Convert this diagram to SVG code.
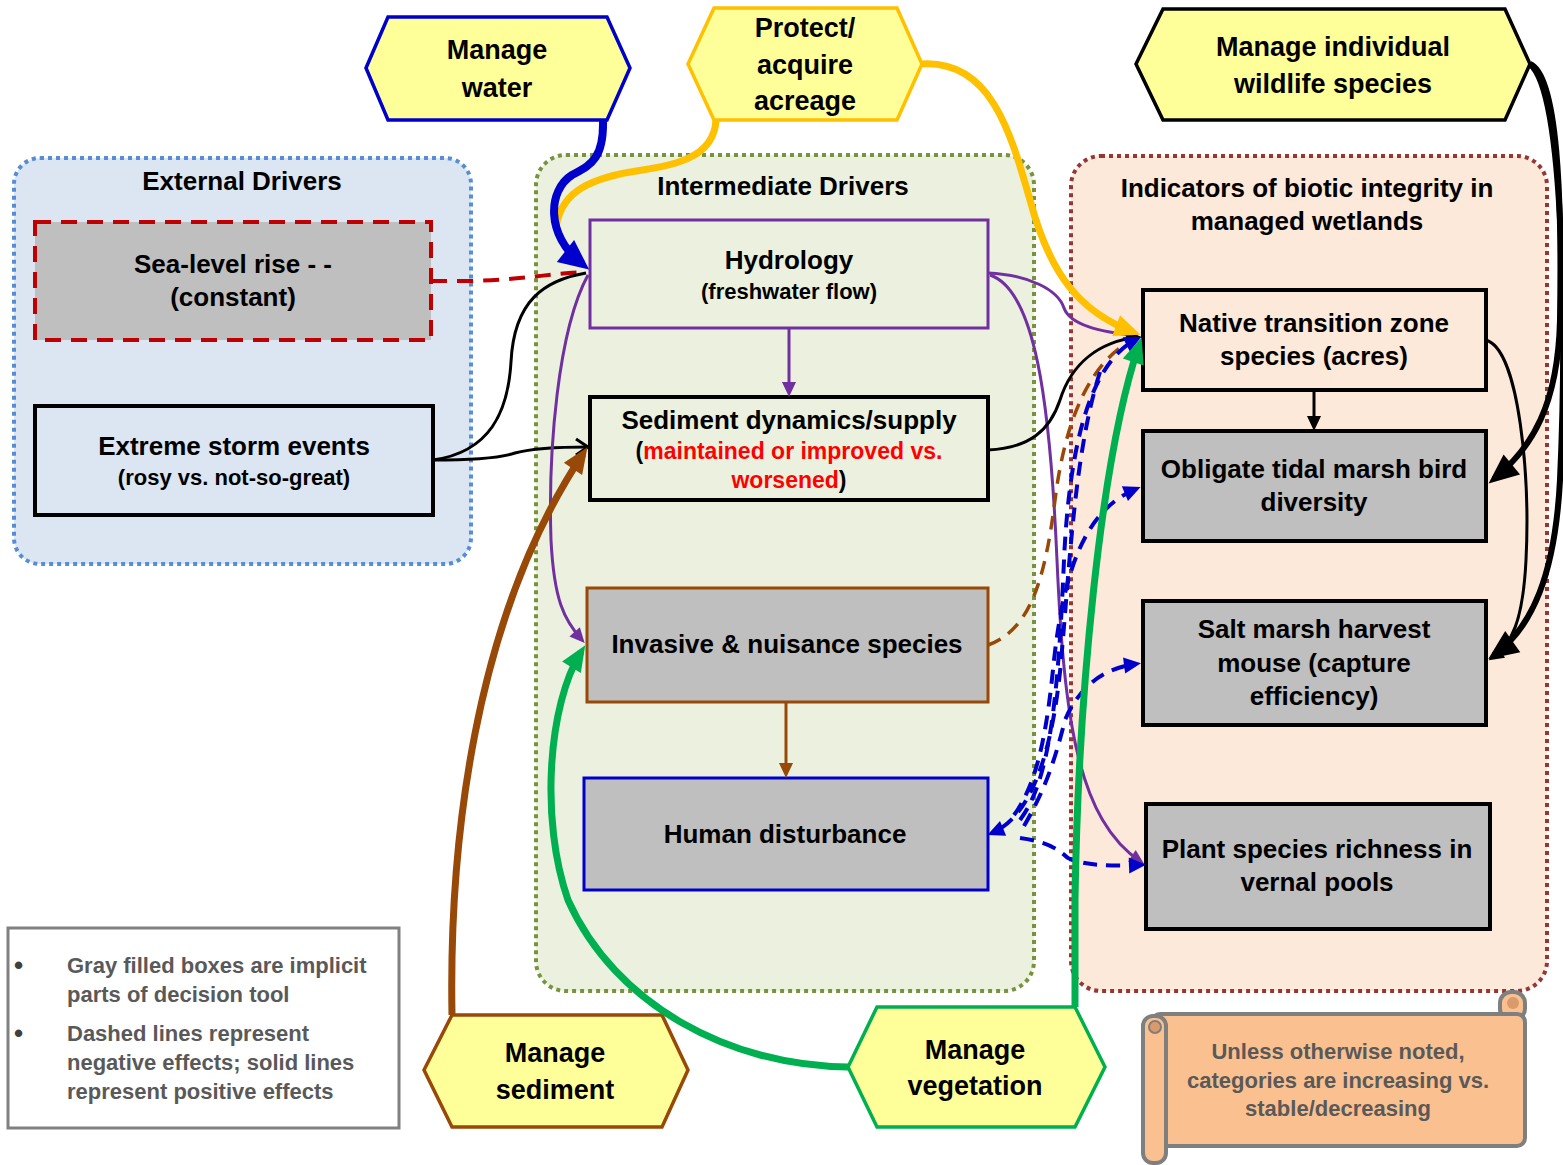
<svg xmlns="http://www.w3.org/2000/svg" width="1563" height="1165" viewBox="0 0 1563 1165">
  <style>
    text { font-family: "Liberation Sans", Arial, sans-serif; font-weight: bold; fill: #000; text-anchor: middle; }
    .t26 { font-size: 26px; }
    .t27 { font-size: 27px; }
    .t22 { font-size: 22px; }
    .t23 { font-size: 23px; }
    .note { font-size: 22px; fill: #595959; }
    .legend { text-anchor: start; }
    .bullet { font-size: 26px; fill: #404040; text-anchor: start; }
    .red { fill: #ff0000; }
    .hex { fill: #ffff99; stroke-width: 3.5; stroke-linejoin: miter; }
    .box { stroke-width: 4; }
    .gray { fill: #bfbfbf; }
    .c { fill: none; stroke-linecap: butt; }
    .dash { stroke-dasharray: 16 10; }
  </style>
  <defs>
    <marker id="aBlue" markerUnits="userSpaceOnUse" refX="21" refY="0" orient="auto" overflow="visible">
      <path d="M0,-14 L30,0 L0,14 z" fill="#0000cc"/>
    </marker>
    <marker id="aYellow" markerUnits="userSpaceOnUse" refX="18" refY="0" orient="auto" overflow="visible">
      <path d="M0,-11 L26,0 L0,11 z" fill="#ffc000"/>
    </marker>
    <marker id="aBrownBig" markerUnits="userSpaceOnUse" refX="18" refY="0" orient="auto" overflow="visible">
      <path d="M0,-11 L26,0 L0,11 z" fill="#984807"/>
    </marker>
    <marker id="aGreen" markerUnits="userSpaceOnUse" refX="18" refY="0" orient="auto" overflow="visible">
      <path d="M0,-11 L26,0 L0,11 z" fill="#00b050"/>
    </marker>
    <marker id="aBlackBig" markerUnits="userSpaceOnUse" refX="23" refY="0" orient="auto" overflow="visible">
      <path d="M0,-13 L30,0 L0,13 z" fill="#000"/>
    </marker>
    <marker id="aPurple" markerUnits="userSpaceOnUse" refX="11" refY="0" orient="auto" overflow="visible">
      <path d="M0,-7 L15,0 L0,7 z" fill="#7030a0"/>
    </marker>
    <marker id="aBrown" markerUnits="userSpaceOnUse" refX="11" refY="0" orient="auto" overflow="visible">
      <path d="M0,-7 L15,0 L0,7 z" fill="#984807"/>
    </marker>
    <marker id="aBlack" markerUnits="userSpaceOnUse" refX="11" refY="0" orient="auto" overflow="visible">
      <path d="M0,-7 L15,0 L0,7 z" fill="#000"/>
    </marker>
    <marker id="aBlackOpen" markerUnits="userSpaceOnUse" refX="12" refY="0" orient="auto" overflow="visible">
      <path d="M0,-8 L12,0 L0,8" fill="none" stroke="#000" stroke-width="3"/>
    </marker>
    <marker id="aBlueDash" markerUnits="userSpaceOnUse" refX="12" refY="0" orient="auto" overflow="visible">
      <path d="M0,-8 L17,0 L0,8 z" fill="#0000cc"/>
    </marker>
  </defs>

  <!-- grouping panels -->
  <g id="external-drivers">
    <rect x="14" y="158" width="457" height="406" rx="26" fill="#dce6f2" stroke="#558ed5" stroke-width="4" stroke-dasharray="4 4"/>
    <text class="t26" x="242" y="190">External Drivers</text>
  </g>
  <g id="intermediate-drivers">
    <rect x="536" y="155" width="498" height="836" rx="30" fill="#ebf1de" stroke="#77933c" stroke-width="4" stroke-dasharray="4 4"/>
    <text class="t26" x="783" y="195">Intermediate Drivers</text>
  </g>
  <g id="indicators">
    <rect x="1071" y="156" width="476" height="835" rx="30" fill="#fde9d9" stroke="#953735" stroke-width="4" stroke-dasharray="4 4"/>
    <text class="t26" x="1307" y="197">Indicators of biotic integrity in</text>
    <text class="t26" x="1307" y="230">managed wetlands</text>
  </g>

  <!-- nodes -->
  <g id="sea-level-rise">
    <rect x="35" y="222" width="396" height="118" class="box gray" stroke="#c00000" stroke-dasharray="16 10"/>
    <text class="t26" x="233" y="273">Sea-level rise - -</text>
    <text class="t26" x="233" y="306">(constant)</text>
  </g>
  <g id="extreme-storm-events">
    <rect x="35" y="406" width="398" height="109" class="box" fill="#dce6f2" stroke="#000"/>
    <text class="t26" x="234" y="455">Extreme storm events</text>
    <text class="t22" x="234" y="485">(rosy vs. not-so-great)</text>
  </g>
  <g id="hydrology">
    <rect x="590" y="220" width="398" height="108" fill="#ebf1de" stroke="#7030a0" stroke-width="3"/>
    <text class="t26" x="789" y="269">Hydrology</text>
    <text class="t22" x="789" y="299">(freshwater flow)</text>
  </g>
  <g id="sediment-dynamics">
    <rect x="590" y="397" width="398" height="103" class="box" fill="#ebf1de" stroke="#000"/>
    <text class="t26" x="789" y="429">Sediment dynamics/supply</text>
    <text class="t23" x="789" y="459">(<tspan class="red">maintained or improved vs.</tspan></text>
    <text class="t23" x="789" y="488"><tspan class="red">worsened</tspan>)</text>
  </g>
  <g id="invasive-species">
    <rect x="587" y="588" width="401" height="114" class="gray" stroke="#984807" stroke-width="3"/>
    <text class="t26" x="787" y="653">Invasive &amp; nuisance species</text>
  </g>
  <g id="human-disturbance">
    <rect x="584" y="778" width="404" height="112" class="gray" stroke="#0000cc" stroke-width="3"/>
    <text class="t26" x="785" y="843">Human disturbance</text>
  </g>
  <g id="native-transition-zone">
    <rect x="1143" y="290" width="343" height="100" class="box" fill="#fde9d9" stroke="#000"/>
    <text class="t26" x="1314" y="332">Native transition zone</text>
    <text class="t26" x="1314" y="365">species (acres)</text>
  </g>
  <g id="tidal-marsh-bird">
    <rect x="1143" y="431" width="343" height="110" class="box gray" stroke="#000"/>
    <text class="t26" x="1314" y="478">Obligate tidal marsh bird</text>
    <text class="t26" x="1314" y="511">diversity</text>
  </g>
  <g id="harvest-mouse">
    <rect x="1143" y="601" width="343" height="124" class="box gray" stroke="#000"/>
    <text class="t26" x="1314" y="638">Salt marsh harvest</text>
    <text class="t26" x="1314" y="672">mouse (capture</text>
    <text class="t26" x="1314" y="705">efficiency)</text>
  </g>
  <g id="vernal-pools">
    <rect x="1146" y="804" width="344" height="125" class="box gray" stroke="#000"/>
    <text class="t26" x="1317" y="858">Plant species richness in</text>
    <text class="t26" x="1317" y="891">vernal pools</text>
  </g>

  <!-- management actions -->
  <g id="manage-water">
    <polygon class="hex" stroke="#0000cc" points="366,68 388,17 607,17 630,68 607,120 388,120"/>
    <text class="t27" x="497" y="59">Manage</text>
    <text class="t27" x="497" y="97">water</text>
  </g>
  <g id="protect-acreage">
    <polygon class="hex" stroke="#ffc000" points="688,64 714,8 897,8 922,64 897,120 714,120"/>
    <text class="t27" x="805" y="37">Protect/</text>
    <text class="t27" x="805" y="74">acquire</text>
    <text class="t27" x="805" y="110">acreage</text>
  </g>
  <g id="manage-wildlife">
    <polygon class="hex" stroke="#000" stroke-width="4" points="1136,64 1163,9 1505,9 1530,64 1505,120 1163,120"/>
    <text class="t27" x="1333" y="56">Manage individual</text>
    <text class="t27" x="1333" y="93">wildlife species</text>
  </g>
  <g id="manage-sediment">
    <polygon class="hex" stroke="#984807" points="424,1070 452,1015 662,1015 688,1070 662,1127 452,1127"/>
    <text class="t27" x="555" y="1062">Manage</text>
    <text class="t27" x="555" y="1099">sediment</text>
  </g>
  <g id="manage-vegetation">
    <polygon class="hex" stroke="#00b050" points="848,1067 877,1007 1075,1007 1105,1067 1075,1127 877,1127"/>
    <text class="t27" x="975" y="1059">Manage</text>
    <text class="t27" x="975" y="1095">vegetation</text>
  </g>

  <!-- connectors -->
  <g id="connectors">
    <!-- sea-level rise (negative) to hydrology -->
    <path class="c dash" stroke="#c00000" stroke-width="4" d="M431,281 L470,281 C520,280 545,274 586,272"/>
    <!-- storm events to hydrology and sediment -->
    <path class="c" stroke="#000" stroke-width="3" d="M433,460 C490,452 508,412 511,362 C514,300 545,280 586,273"/>
    <path class="c" stroke="#000" stroke-width="3" marker-end="url(#aBlackOpen)" d="M433,460 C470,460 500,458 515,453 C530,449 560,447 588,447"/>
    <!-- hydrology outputs -->
    <path class="c" stroke="#7030a0" stroke-width="3" marker-end="url(#aPurple)" d="M789,328 L789,393"/>
    <path class="c" stroke="#7030a0" stroke-width="3" marker-end="url(#aPurple)" d="M588,275 C558,330 548,450 551,540 C554,600 564,620 582,640"/>
    <path class="c" stroke="#7030a0" stroke-width="3" d="M988,273 C1030,275 1058,290 1064,308 C1070,325 1100,332 1138,336"/>
    <path class="c" stroke="#7030a0" stroke-width="3" marker-end="url(#aPurple)" d="M990,275 C1035,290 1050,400 1057,560 C1064,720 1078,820 1141,862"/>
    <!-- sediment to native transition -->
    <path class="c" stroke="#000" stroke-width="3" marker-end="url(#aBlack)" d="M988,450 C1030,448 1050,430 1060,400 C1072,362 1100,342 1137,337"/>
    <!-- invasive (negative) to native transition -->
    <path class="c" stroke="#984807" stroke-width="3.5" stroke-dasharray="14 9" d="M988,645 C1030,630 1045,580 1055,500 C1065,420 1090,360 1136,338"/>
    <!-- invasive to human disturbance -->
    <path class="c" stroke="#984807" stroke-width="3" marker-end="url(#aBrown)" d="M786,702 L786,774"/>
    <!-- human disturbance (negative) links -->
    <path class="c" stroke="#0000cc" stroke-width="4" stroke-dasharray="14 9" marker-end="url(#aBlueDash)" d="M1020,820 C1050,780 1058,700 1064,560 C1070,430 1095,360 1137,339"/>
    <path class="c" stroke="#0000cc" stroke-width="4" stroke-dasharray="14 9" marker-end="url(#aBlueDash)" d="M1014,815 C1040,780 1048,720 1054,660 C1064,570 1085,510 1136,489"/>
    <path class="c" stroke="#0000cc" stroke-width="4" stroke-dasharray="14 9" marker-end="url(#aBlueDash)" d="M1024,826 C1045,790 1055,760 1065,720 C1080,685 1105,668 1136,664"/>
    <path class="c" stroke="#0000cc" stroke-width="4" stroke-dasharray="14 9" marker-end="url(#aBlueDash)" d="M1020,838 C1050,842 1058,850 1068,858 C1085,866 1110,866 1141,865"/>
    <path class="c" stroke="#0000cc" stroke-width="4" stroke-dasharray="14 9" marker-end="url(#aBlueDash)" d="M1100,372 C1075,450 1070,560 1062,650 C1055,740 1035,815 992,833"/>
    <!-- native transition to species -->
    <path class="c" stroke="#000" stroke-width="3" marker-end="url(#aBlack)" d="M1314,390 L1314,427"/>
    <path class="c" stroke="#000" stroke-width="3" marker-end="url(#aBlack)" d="M1486,340 C1520,350 1530,480 1526,560 C1523,620 1512,645 1492,658"/>
    <!-- manage water -->
    <path class="c" stroke="#ffc000" stroke-width="7" d="M716,120 C714,160 670,166 630,172 C585,180 560,195 556,228"/>
    <path class="c" stroke="#0000cc" stroke-width="8" marker-end="url(#aBlue)" d="M603,120 C604,160 590,165 572,175 C548,190 545,235 582,264"/>
    <!-- protect acreage to native transition -->
    <path class="c" stroke="#ffc000" stroke-width="7" marker-end="url(#aYellow)" d="M922,64 C990,60 1010,130 1030,200 C1050,275 1080,312 1133,332"/>
    <!-- manage sediment -->
    <path class="c" stroke="#984807" stroke-width="7" marker-end="url(#aBrownBig)" d="M452,1015 C449,850 472,620 583,454"/>
    <!-- manage vegetation -->
    <path class="c" stroke="#00b050" stroke-width="7" marker-end="url(#aGreen)" d="M1075,1007 L1075,900 C1078,700 1100,460 1139,345"/>
    <path class="c" stroke="#00b050" stroke-width="7" marker-end="url(#aGreen)" d="M848,1067 C730,1066 615,1005 568,900 C540,820 548,705 581,652"/>
    <!-- manage individual wildlife species -->
    <path class="c" stroke="#000" stroke-width="6" marker-end="url(#aBlackBig)" d="M1530,64 C1558,75 1562,200 1560,320 C1558,405 1532,448 1494,479"/>
    <path class="c" stroke="#000" stroke-width="6" marker-end="url(#aBlackBig)" d="M1530,64 C1566,95 1566,350 1560,480 C1555,575 1532,628 1494,655"/>
  </g>

  <!-- key -->
  <g id="legend">
    <rect x="8" y="928" width="391" height="200" fill="#fff" stroke="#808080" stroke-width="3"/>
    <text class="bullet" x="14" y="974">•</text>
    <text class="note legend" x="67" y="973">Gray filled boxes are implicit</text>
    <text class="note legend" x="67" y="1002">parts of decision tool</text>
    <text class="bullet" x="14" y="1042">•</text>
    <text class="note legend" x="67" y="1041">Dashed lines represent</text>
    <text class="note legend" x="67" y="1070">negative effects; solid lines</text>
    <text class="note legend" x="67" y="1099">represent positive effects</text>
  </g>

  <!-- scroll note -->
  <g id="scroll-note">
    <rect x="1500" y="992" width="25" height="28" rx="11" fill="#fac090" stroke="#7f7f7f" stroke-width="4"/>
    <rect x="1152" y="1014" width="373" height="132" rx="8" fill="#fac090" stroke="#7f7f7f" stroke-width="4"/>
    <circle cx="1513" cy="1003" r="6" fill="#d99a6c"/>
    <rect x="1143" y="1016" width="23" height="147" rx="10" fill="#fac090" stroke="#7f7f7f" stroke-width="4"/>
    <circle cx="1155" cy="1027" r="6" fill="#d99a6c" stroke="#7f7f7f" stroke-width="2"/>
    <text class="note" x="1338" y="1059">Unless otherwise noted,</text>
    <text class="note" x="1338" y="1088">categories are increasing vs.</text>
    <text class="note" x="1338" y="1116">stable/decreasing</text>
  </g>
</svg>
